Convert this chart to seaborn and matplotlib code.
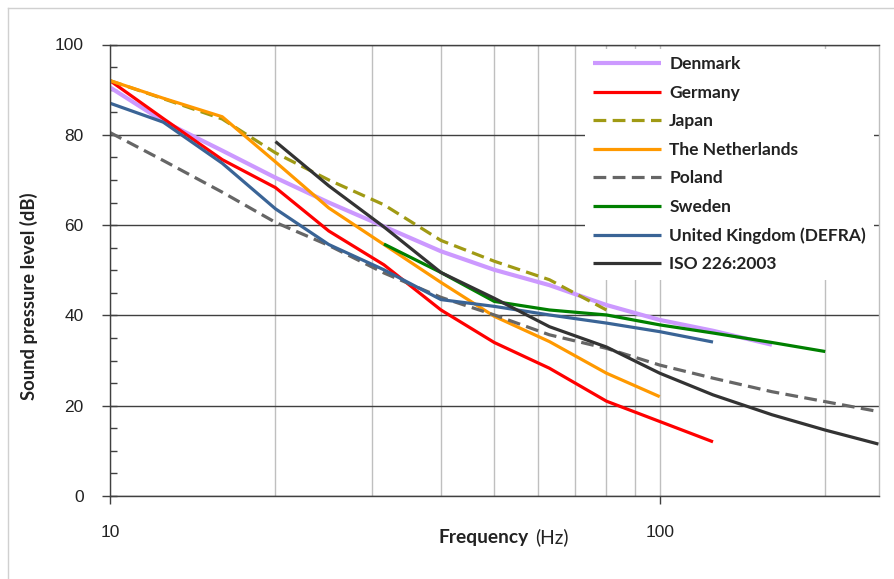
import numpy as np
import pandas as pd
import matplotlib
matplotlib.use("Agg")
import matplotlib.pyplot as plt
import seaborn as sns
from matplotlib.ticker import FixedLocator, MultipleLocator, NullFormatter
from matplotlib.lines import Line2D

# ---------------- data ----------------
freqs = [10, 12.5, 16, 20, 25, 31.5, 40, 50, 63, 80, 100, 125, 160, 200, 250]
nan = np.nan
denmark = [90.5, 83.0, 76.5, 70.5, 65.0, 59.7, 54.2, 50.1, 46.7, 42.3, 39.0, 36.6, 33.5, nan, nan]
germany = [92.0, 83.6, 74.5, 68.3, 58.7, 51.2, 41.2, 34.0, 28.3, 21.0, 16.5, 12.0, nan, nan, nan]
japan = [92.0, 88.0, 83.5, 76.0, 70.0, 64.5, 56.6, 52.0, 47.9, 41.2, nan, nan, nan, nan, nan]
netherlands = [92.0, 88.1, 84.0, 74.0, 63.8, 55.7, 47.3, 39.8, 34.2, 27.2, 22.0, nan, nan, nan, nan]
poland = [80.5, 74.3, 67.3, 60.6, 55.5, 49.4, 44.0, 40.1, 35.7, 32.7, 29.0, 26.1, 23.1, 20.9, 18.7]
sweden = [nan, nan, nan, nan, nan, 55.8, 49.5, 43.1, 41.2, 40.1, 37.9, 36.1, 34.0, 32.0, nan]
uk = [87.0, 82.8, 73.7, 63.6, 55.7, 50.1, 43.5, 42.0, 40.1, 38.3, 36.4, 34.1, nan, nan, nan]
iso = [nan, nan, nan, 78.5, 68.7, 59.6, 49.5, 43.8, 37.5, 33.0, 27.2, 22.4, 18.0, 14.6, 11.5]

series_names = ["Denmark", "Germany", "Japan", "The Netherlands", "Poland",
                "Sweden", "United Kingdom (DEFRA)", "ISO 226:2003"]
series_values = [denmark, germany, japan, netherlands, poland, sweden, uk, iso]
colors = ["#CC99FF", "#FF0000", "#A09A14", "#FF9900", "#666666",
          "#008000", "#3A6496", "#333333"]
dashed = {"Japan", "Poland"}

x_ticks = [10, 100]
x_tick_labels = ["10", "100"]
x_minor_grid = [20, 30, 40, 50, 60, 70, 80, 90, 200]
y_ticks = [0, 20, 40, 60, 80, 100]

# ---------------- frame ----------------
rows = []
for name, vals in zip(series_names, series_values):
    for f, v in zip(freqs, vals):
        rows.append({"freq": f, "spl": v, "country": name})
df = pd.DataFrame(rows).dropna()

W, H = 894, 579
fig = plt.figure(figsize=(W / 100, H / 100), dpi=100)
fig.patch.set_facecolor("white")

L, R, T, B = 110, 878.5, 44.5, 496
ax = fig.add_axes([L / W, 1 - B / H, (R - L) / W, (B - T) / H])

palette = dict(zip(series_names, colors))
dashes = {n: ((4, 2) if n in dashed else "") for n in series_names}
sns.lineplot(data=df, x="freq", y="spl", hue="country", style="country",
             hue_order=series_names, style_order=series_names,
             palette=palette, dashes=dashes, estimator=None, sort=False,
             linewidth=2.3, legend=False, ax=ax)
for line in ax.lines:
    line.set_solid_capstyle("butt")
    line.set_dash_capstyle("butt")
ax.lines[0].set_linewidth(3.0)

ax.set_xscale("log")
ax.set_xlim(10, 250)
ax.set_ylim(0, 100)

ax.xaxis.set_major_locator(FixedLocator(x_ticks))
ax.set_xticklabels(x_tick_labels)
ax.xaxis.set_minor_locator(FixedLocator(x_minor_grid))
ax.xaxis.set_minor_formatter(NullFormatter())
ax.yaxis.set_major_locator(FixedLocator(y_ticks))
ax.yaxis.set_minor_locator(MultipleLocator(5))
ax.yaxis.remove_overlapping_locs = False

ax.set_axisbelow(True)
ax.grid(axis="x", which="both", color="#BFBFBF", linewidth=1.0)
ax.grid(axis="y", which="major", color="#404040", linewidth=1.0)

ax.tick_params(axis="x", which="major", direction="out", length=6, width=1,
               color="#404040", pad=15, labelsize=12.5, labelcolor="#222222")
ax.tick_params(axis="x", which="minor", length=0)
ax.tick_params(axis="y", which="major", direction="out", length=6, width=1,
               color="#404040", pad=13, labelsize=12.5, labelcolor="#222222")
ax.tick_params(axis="y", which="minor", direction="in", length=5, width=1,
               color="#404040")
for lab in ax.get_xticklabels() + ax.get_yticklabels():
    lab.set_fontfamily("Liberation Sans")

for s in ["left", "bottom", "top"]:
    ax.spines[s].set_color("#404040")
    ax.spines[s].set_linewidth(1.0)
ax.spines["right"].set_color("#BFBFBF")
ax.spines["right"].set_linewidth(1.0)

ax.set_xlabel("")
ax.set_ylabel("")

# legend
handles = []
for name, col in zip(series_names, colors):
    handles.append(Line2D([], [], color=col, linewidth=3.0 if name == "Denmark" else 2.3,
                          linestyle=(0, (4, 2)) if name in dashed else "-",
                          solid_capstyle="butt", dash_capstyle="butt"))
leg = ax.legend(handles, series_names, loc="upper left",
                bbox_to_anchor=((585 - L) / (R - L), (B - 48.5) / (B - T)),
                bbox_transform=ax.transAxes, frameon=True, fancybox=False,
                framealpha=1, facecolor="white", edgecolor="none",
                borderaxespad=0, borderpad=0.45, handlelength=3.95,
                handletextpad=0.45, labelspacing=0.72,
                prop=dict(family="Lato", weight="bold", size=12.5))
for t in leg.get_texts():
    t.set_color("#222222")

# axis titles
fig.text(28.5 / W, 1 - 296 / H, "Sound pressure level (dB)", rotation=90,
         ha="center", va="center", fontsize=13.2, fontweight="bold",
         family="Lato", color="#222222")
t1 = fig.text(439 / W, 1 - 537 / H, "Frequency", ha="left", va="center",
              fontsize=13.8, fontweight="bold", family="Lato", color="#222222")
renderer = fig.canvas.get_renderer()
bb = t1.get_window_extent(renderer=renderer)
fig.text((bb.x1 + 6) / W, 1 - 537 / H, "(Hz)", ha="left", va="center",
         fontsize=13.8, family="Lato", color="#222222")

# outer frame
fig.add_artist(Line2D([8 / W, 1], [1 - 8 / H, 1 - 8 / H], transform=fig.transFigure,
                      color="#D0D0D0", linewidth=1))
fig.add_artist(Line2D([8 / W, 8 / W], [0, 1 - 8 / H], transform=fig.transFigure,
                      color="#D0D0D0", linewidth=1))

fig.savefig("out.png", dpi=100, facecolor="white")
